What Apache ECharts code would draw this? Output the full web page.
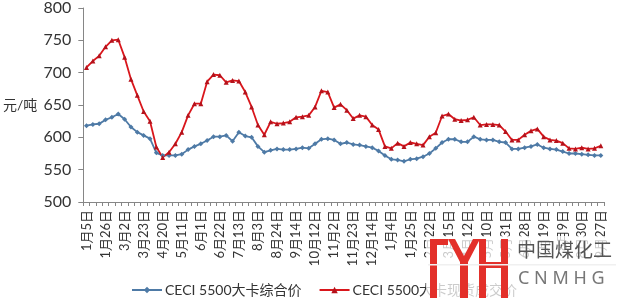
<!DOCTYPE html>
<html>
<head>
<meta charset="utf-8">
<script src="https://cdn.jsdelivr.net/npm/echarts@6/dist/echarts.min.js"></script>
<style>
html,body{margin:0;padding:0;background:#fff;}
#c{width:619px;height:298px;}
</style>
</head>
<body>
<div id="c"></div>
<script>
var categories = ['1月5日','1月12日','1月19日','1月26日','2月2日','2月9日','3月2日','3月9日','3月16日','3月23日',
'3月30日','4月13日','4月20日','4月27日','5月4日','5月11日','5月18日','5月25日','6月1日','6月8日',
'6月15日','6月22日','6月29日','7月6日','7月13日','7月20日','7月27日','8月3日','8月10日','8月17日',
'8月24日','8月31日','9月7日','9月14日','9月21日','9月28日','10月12日','10月19日','10月26日','11月2日',
'11月9日','11月16日','11月23日','11月30日','12月7日','12月14日','12月21日','12月28日','1月4日','1月11日',
'1月18日','1月25日','2月1日','2月15日','2月22日','3月1日','3月8日','3月15日','3月22日','4月5日',
'4月12日','4月19日','4月26日','5月10日','5月17日','5月24日','5月31日','6月7日','6月14日','6月28日',
'7月5日','7月12日','7月19日','7月26日','8月2日','8月9日','8月16日','8月23日','8月30日','9月6日',
'9月13日','9月27日'];

var compositeName = 'CECI 5500大卡综合价';
var compositeValues = [618,620,621,627,631,636,628,616,608,603,
598,576,572,572,572,574,581,586,590,595,
601,601,603,594,608,602,600,586,577,580,
582,581,581,582,584,583,590,597,598,596,
590,592,589,588,586,584,579,572,566,565,
563,566,567,570,575,583,592,597,597,593,
593,601,597,596,596,593,592,582,582,584,
586,589,584,582,581,578,575,575,574,573,
572,572];

var spotName = 'CECI 5500大卡现货成交价';
var spotValues = [708,718,726,740,750,751,724,690,665,640,
625,585,569,577,590,608,634,652,652,686,
697,696,685,688,687,670,647,619,604,624,
621,622,624,631,632,634,647,672,670,646,
651,642,629,634,632,619,612,586,583,591,
586,592,590,588,601,607,633,636,628,626,
627,631,619,620,620,619,609,596,596,604,
610,613,601,596,595,591,583,582,584,582,
583,587];

var yTicks = {min: 500, max: 800, interval: 50};
var yUnit = '元/吨';

var FONT = "Lato, 'Noto Sans CJK SC', sans-serif";
var chart = echarts.init(document.getElementById('c'), null, {renderer: 'canvas'});
var red = '#D9161C';
chart.setOption({
  animation: false,
  backgroundColor: '#ffffff',
  grid: {left: 68, right: 15, top: 7, bottom: 96, containLabel: false},
  legend: {
    left: 126, top: 278,
    itemWidth: 30, itemHeight: 8, itemGap: 17,
    textStyle: {fontFamily: FONT, fontSize: 14, color: '#333333', padding: [0,0,0,-2]},
    data: [compositeName, spotName]
  },
  xAxis: {
    type: 'category',
    data: categories,
    boundaryGap: true,
    axisLine: {lineStyle: {color: '#868686', width: 1}},
    axisTick: {show: true, interval: 0, length: 4, lineStyle: {color: '#868686'}},
    axisLabel: {interval: 2, rotate: 90, margin: 8, fontFamily: FONT, fontSize: 13, color: '#333333'},
    splitLine: {show: false}
  },
  yAxis: {
    type: 'value',
    min: yTicks.min, max: yTicks.max, interval: yTicks.interval,
    name: yUnit,
    nameLocation: 'middle', nameRotate: 0, nameGap: 46,
    nameTextStyle: {fontFamily: FONT, fontSize: 14, color: '#333333', padding: [0,0,26,0]},
    axisLine: {show: true, lineStyle: {color: '#868686', width: 1}},
    axisTick: {show: true, inside: false, length: 5, lineStyle: {color: '#868686'}},
    axisLabel: {margin: 12, fontFamily: FONT, fontSize: 16, color: '#333333'},
    splitLine: {show: false}
  },
  series: [
    {
      name: compositeName, type: 'line', data: compositeValues,
      symbol: 'diamond', symbolSize: 5, showSymbol: true, showAllSymbol: true,
      lineStyle: {color: '#4E7AA6', width: 1.8},
      itemStyle: {color: '#4E7AA6'}
    },
    {
      name: spotName, type: 'line', data: spotValues,
      symbol: 'triangle', symbolSize: 5, showSymbol: true, showAllSymbol: true,
      lineStyle: {color: red, width: 1.8},
      itemStyle: {color: '#B5121B'}
    }
  ],
  graphic: [
    {type: 'rect', shape: {x: 426, y: 236, width: 193, height: 62}, style: {fill: 'rgba(255,255,255,0.75)'}, z: 100},
    {type: 'rect', shape: {x: 430, y: 239, width: 7, height: 59}, style: {fill: '#E3302A'}, z: 101},
    {type: 'rect', shape: {x: 430, y: 239, width: 18, height: 6}, style: {fill: '#E3302A'}, z: 101},
    {type: 'polygon', shape: {points: [[448,239],[455,239],[464,256],[473,239],[480,239],[468,262],[468,298],[460,298],[460,262]]}, style: {fill: '#E3302A'}, z: 101},
    {type: 'rect', shape: {x: 479, y: 239, width: 7, height: 59}, style: {fill: '#E3302A'}, z: 101},
    {type: 'rect', shape: {x: 501, y: 239, width: 7, height: 59}, style: {fill: '#E3302A'}, z: 101},
    {type: 'rect', shape: {x: 479, y: 262, width: 29, height: 6}, style: {fill: '#E3302A'}, z: 101},
    {type: 'rect', shape: {x: 428, y: 264, width: 188, height: 1.5}, style: {fill: '#f0f0f0'}, z: 102},
    {type: 'text', left: 517, top: 240, style: {text: '中国煤化工', font: "19px 'Noto Sans CJK SC'", fill: '#555555'}, z: 103},
    {type: 'text', left: 518, top: 270, style: {text: 'C N M H G', font: "18px 'Noto Sans', sans-serif", fill: '#777777'}, z: 103}
  ]
});
</script>
</body>
</html>
